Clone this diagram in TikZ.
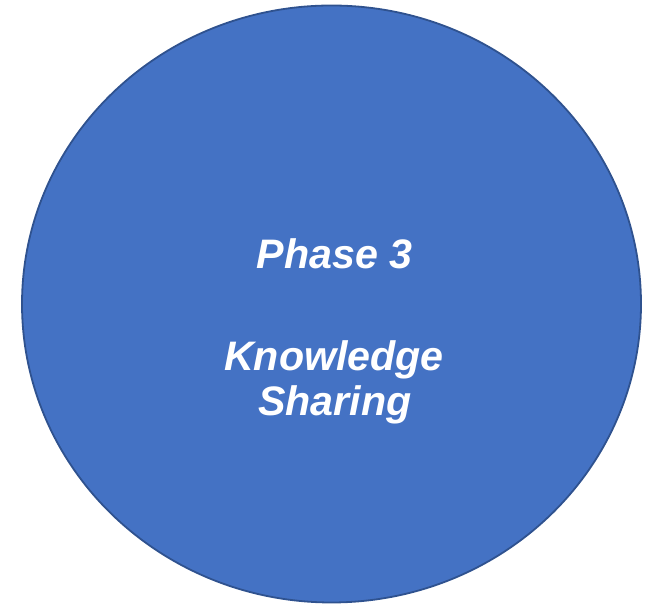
\documentclass[tikz,border=0pt]{standalone}
\usepackage{fontspec}
\setmainfont{Liberation Sans}
\definecolor{fillblue}{HTML}{4472C4}
\definecolor{edgeblue}{HTML}{2F528F}
\begin{document}
\begin{tikzpicture}[x=1pt,y=1pt,
  lbl/.style={text=white,font=\fontsize{41.2}{46}\selectfont\bfseries\itshape,anchor=base,inner sep=0pt}]
\useasboundingbox (0,0) rectangle (649,604);
\draw[fill=fillblue,draw=edgeblue,line width=1.8pt] (331.5,300) ellipse [x radius=309.5,y radius=298.5];
\node[lbl] (p) at (334.5,335) {Phase 3};
\node[lbl] (k) at (334,233) {Knowledge};
\node[lbl] (s) at (335,188) {Sharing};
\end{tikzpicture}
\end{document}
